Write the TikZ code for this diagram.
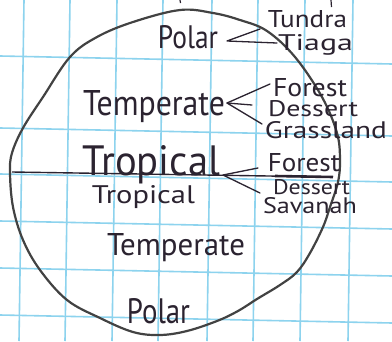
\documentclass[tikz,border=0pt]{standalone}
\usepackage{fontspec}
\setmainfont{PT Sans}
\usepackage{graphicx}
\definecolor{gridblue}{HTML}{8DD3EE}
\definecolor{rimgray}{HTML}{424242}
\definecolor{ink}{HTML}{2B2330}
\newcommand\hw[3]{\resizebox{#1pt}{#2pt}{#3}}
\begin{document}
\begin{tikzpicture}[x=1pt,y=-1pt,
  gridline/.style={draw=gridblue, line width=1.6pt},
  rim/.style={draw=rimgray, line width=2.2pt},
  word/.style={anchor=base west, inner sep=0pt, outer sep=0pt, text=ink},
  pointer/.style={draw=ink, line width=1.3pt, line cap=round, line join=round}]
\fill[white] (0,0) rectangle (392,341);
\useasboundingbox (0,0) rectangle (392,341);
% graph paper
\foreach \a/\b in {24/19, 70/65, 117/112, 163/158, 212/207, 258/253, 305/300, 353/348}
  \draw[gridline] (\a,0) -- (\b,341);
\foreach \a/\b in {56/64, 128/136, 174/182, 221/229, 268/276, 315/323}
  \draw[gridline] (0,\a) -- (392,\b);
% fragments at the top edge
\draw[draw=ink, line width=1.2pt] (180,0) -- (180.5,3);
\draw[draw=ink, line width=1.2pt] (331,0) -- (331.5,7);
% globe outline
\draw[rim] plot[smooth cycle, tension=0.6] coordinates {
 (180,10) (213,13) (240,20) (267,31) (295,57) (322,97) (337,133) (340,160)
 (338,182) (330,207) (323,227) (310,253) (297,272) (280,285) (257,299)
 (238,311) (217,321) (187,331) (160,335) (133,332) (100,318) (67,300)
 (40,270) (23,240) (13,207) (10,173) (12,153) (23,128) (43,97) (70,57)
 (97,37) (133,22)};
% equator
\coordinate (eqL) at (12,172);
\coordinate (eqR) at (333,177);
\coordinate (eqT) at (275,176);
\draw[draw=ink, line width=1.4pt] (eqL) -- (eqR);
\draw[draw=ink, line width=2.6pt] (eqT) -- (eqR);
% labels
\node[word] (polarN) at (158,48) {\hw{60}{23}{Polar}};
\node[word] (tundra) at (268,27) {\hw{79}{17}{Tundra}};
\node[word] (tiaga) at (278,50) {\hw{75}{16}{Tiaga}};
\node[word] (tempN) at (83,115) {\hw{142}{25}{Temperate}};
\node[word] (forN) at (273,96) {\hw{74}{18}{Forest}};
\node[word] (desN) at (268,116) {\hw{90}{16}{Dessert}};
\node[word] (grass) at (265,138) {\hw{122}{17}{Grassland}};
\node[word] (tropN) at (83,175) {\hw{137}{30}{Tropical}};
\node[word] (tropS) at (92,203) {\hw{103}{18}{Tropical}};
\node[word] (forT) at (268,171) {\hw{72}{18}{Forest}};
\node[word] (desT) at (273,194) {\hw{77}{15}{Dessert}};
\node[word] (sav) at (263,213) {\hw{94}{16}{Savanah}};
\node[word] (tempS) at (107,255) {\hw{138}{22}{Temperate}};
\node[word] (polarS) at (127,323) {\hw{63}{25}{Polar}};
% pointers
\coordinate (vP) at (227,41);
\coordinate (pTu) at (260,29);
\coordinate (pTi) at (277,43);
\draw[pointer] (pTu) -- (vP) -- (pTi);
\coordinate (vT) at (227,103);
\coordinate (pFo) at (270,84);
\coordinate (pDe) at (252,105);
\coordinate (pGr) at (262,124);
\draw[pointer] (pFo) -- (vT) -- (pGr);
\draw[pointer] (vT) -- (pDe);
\coordinate (vR) at (223,175);
\coordinate (pFt) at (258,168);
\coordinate (pSv) at (260,193);
\draw[pointer] (pFt) -- (vR) -- (pSv);
\end{tikzpicture}
\end{document}
